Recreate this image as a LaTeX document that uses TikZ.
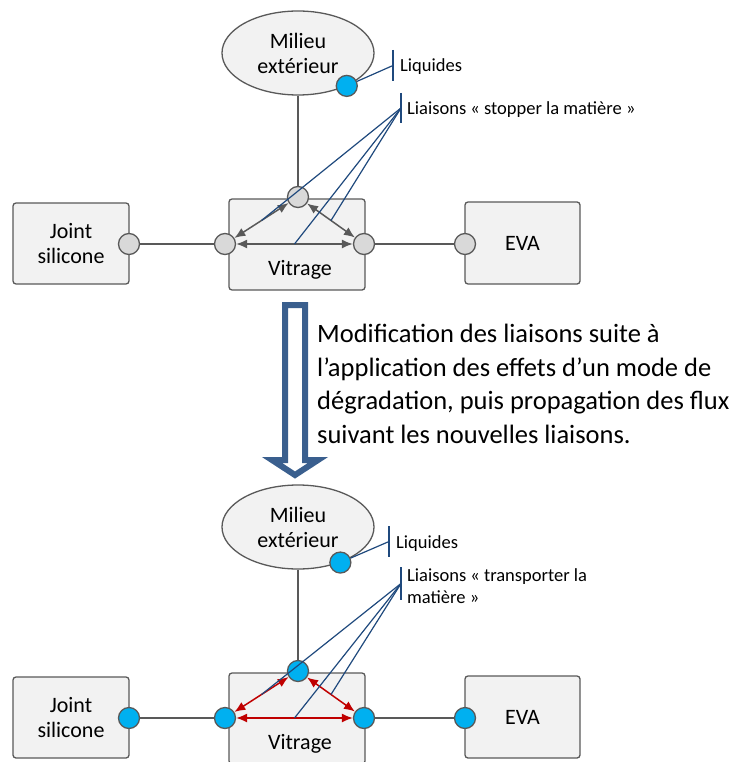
\documentclass[tikz,border=0pt]{standalone}
\usepackage{fontspec}
\setmainfont{Carlito}
\usetikzlibrary{shapes.geometric,arrows.meta}

\definecolor{boxfill}{HTML}{F2F2F2}
\definecolor{boxline}{HTML}{595959}
\definecolor{portgray}{HTML}{D9D9D9}
\definecolor{portblue}{HTML}{00B0F0}
\definecolor{calloutblue}{HTML}{1F497D}
\definecolor{flowred}{HTML}{C00000}
\definecolor{bigarrowblue}{HTML}{3A5F8E}

\tikzset{
  block/.style={draw=boxline, fill=boxfill, line width=1.3pt, rounded corners=3pt,
    align=center, inner sep=0pt, font=\fontsize{22}{25}\selectfont},
  milieu/.style={ellipse, draw=boxline, fill=boxfill, line width=1.3pt, inner sep=0pt,
    minimum width=152pt, minimum height=84pt, align=center, font=\fontsize{22}{25}\selectfont},
  port/.style={circle, draw=boxline, fill=portgray, line width=1.3pt, minimum size=21pt, inner sep=0pt},
  wetport/.style={port, fill=portblue},
  link/.style={draw=boxline, line width=1.3pt},
  flow/.style={draw=boxline, line width=1.5pt, {Latex[length=11pt,width=9pt]}-{Latex[length=11pt,width=9pt]}},
  redflow/.style={flow, draw=flowred},
  callout/.style={draw=calloutblue, line width=1.2pt},
  lbl/.style={anchor=west, inner sep=0pt, align=left, font=\fontsize{18.5}{22}\selectfont},
  bigarrow/.style={draw=bigarrowblue, fill=white, line width=6pt, miter limit=4}
}

\begin{document}
\begin{tikzpicture}[x=1pt,y=-1pt]
\useasboundingbox (0,0) rectangle (731,762);

% avant
\node[milieu] (mil) at (298,53) {Milieu\\extérieur};
\node[block, minimum width=136pt, minimum height=91pt] (vit) at (297,244.5) {};
\node[font=\fontsize{22}{25}\selectfont] (vittxt) at (300,270) {Vitrage};
\node[block, minimum width=116pt, minimum height=81pt] (joint) at (71,243.5) {Joint\\silicone};
\node[block, minimum width=115pt, minimum height=82pt] (eva) at (522.5,243) {EVA};
\node[wetport] (milport) at (mil.-34) {};
\node[port] (pjoint) at (129,244) {};
\node[port] (pvl) at (225,244) {};
\node[port] (pvt) at (298,197) {};
\node[port] (pvr) at (364,244) {};
\node[port] (peva) at (465,244) {};
\node[lbl] (liq) at (400,67) {Liquides};
\node[lbl] (liai) at (407,110) {Liaisons «~stopper la matière~»};
\coordinate (liqtick) at (393,65.5);
\coordinate (liaitick) at (401,108);

\draw[link] (mil) -- (pvt);
\draw[link] (pjoint) -- (pvl);
\draw[link] (pvr) -- (peva);
\draw[flow] (pvt) -- coordinate (m1) (pvl);
\draw[flow] (pvl) -- coordinate (m2) (pvr);
\draw[flow] (pvt) -- coordinate (m3) (pvr);

\draw[callout] ([yshift=15.5pt]liqtick) -- ([yshift=-15.5pt]liqtick);
\draw[callout] (milport) -- (liqtick);
\draw[callout] ([yshift=15pt]liaitick) -- ([yshift=-15pt]liaitick);
\draw[callout] (liaitick) -- (m1);
\draw[callout] (liaitick) -- (m2);
\draw[callout] (liaitick) -- (m3);

% fleche
\draw[bigarrow] (285,305) -- (305,305) -- (305,460) -- (318,460) -- (295,475)
  -- (272,460) -- (285,460) -- cycle;
\node[anchor=base west, inner sep=0pt, align=left, font=\fontsize{26.5}{33.5}\selectfont] (note) at (317,443)
  {Modification des liaisons suite à\\l’application des effets d’un mode de\\dégradation, puis propagation des flux\\suivant les nouvelles liaisons.};

% apres
\node[milieu] (mil2) at (298,527) {Milieu\\extérieur};
\node[block, minimum width=136pt, minimum height=91pt] (vit2) at (297,718.5) {};
\node[font=\fontsize{22}{25}\selectfont] (vittxt2) at (300,744) {Vitrage};
\node[block, minimum width=116pt, minimum height=81pt] (joint2) at (71,717.5) {Joint\\silicone};
\node[block, minimum width=115pt, minimum height=82pt] (eva2) at (522.5,717) {EVA};
\node[wetport] (milport2) at (mil2.-40) {};
\node[wetport] (pjoint2) at (129,718) {};
\node[wetport] (pvl2) at (225,718) {};
\node[wetport] (pvt2) at (298,671) {};
\node[wetport] (pvr2) at (364,718) {};
\node[wetport] (peva2) at (465,718) {};
\node[lbl] (liq2) at (396,544) {Liquides};
\node[lbl] (liai2) at (407,586) {Liaisons «~transporter la\\matière~»};
\coordinate (liqtick2) at (389,541.5);
\coordinate (liaitick2) at (401,583.5);

\draw[link] (mil2) -- (pvt2);
\draw[link] (pjoint2) -- (pvl2);
\draw[link] (pvr2) -- (peva2);
\draw[redflow] (pvt2) -- coordinate (n1) (pvl2);
\draw[redflow] (pvl2) -- coordinate (n2) (pvr2);
\draw[redflow] (pvt2) -- coordinate (n3) (pvr2);

\draw[callout] ([yshift=15.5pt]liqtick2) -- ([yshift=-15.5pt]liqtick2);
\draw[callout] (milport2) -- (liqtick2);
\draw[callout] ([yshift=16.5pt]liaitick2) -- ([yshift=-16.5pt]liaitick2);
\draw[callout] (liaitick2) -- (n1);
\draw[callout] (liaitick2) -- (n2);
\draw[callout] (liaitick2) -- (n3);
\end{tikzpicture}
\end{document}
